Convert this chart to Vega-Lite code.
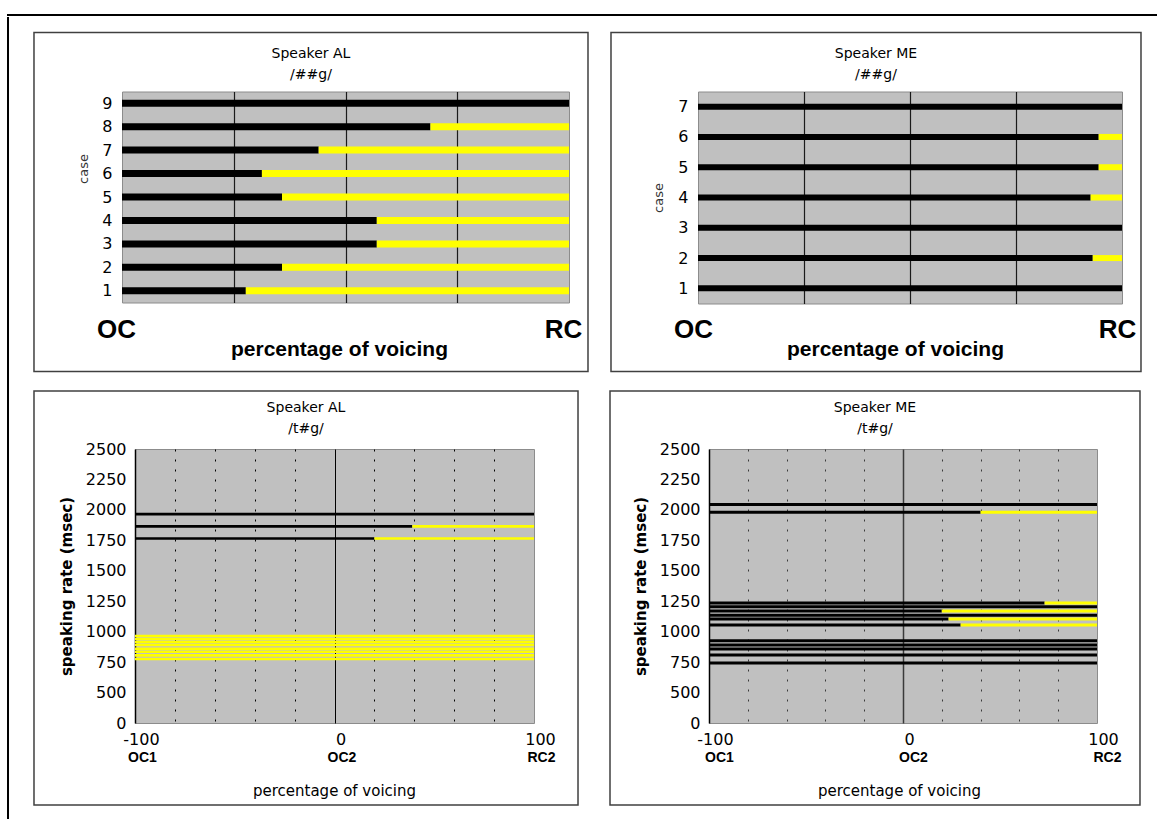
{
  "$schema": "https://vega.github.io/schema/vega-lite/v6.json",
  "padding": {"left": 7, "top": 14, "right": 0, "bottom": 0},
  "background": "white",
  "spacing": 0,
  "datasets": {
    "AL_g": [
      {"case": 1, "boundary": 27.7}, {"case": 2, "boundary": 35.8}, {"case": 3, "boundary": 57},
      {"case": 4, "boundary": 57}, {"case": 5, "boundary": 35.8}, {"case": 6, "boundary": 31.3},
      {"case": 7, "boundary": 44}, {"case": 8, "boundary": 69}, {"case": 9, "boundary": 100}
    ],
    "ME_g": [
      {"case": 1, "boundary": 100}, {"case": 2, "boundary": 93.1}, {"case": 3, "boundary": 100},
      {"case": 4, "boundary": 92.6}, {"case": 5, "boundary": 94.5}, {"case": 6, "boundary": 94.5},
      {"case": 7, "boundary": 100}
    ],
    "AL_t": [
      {"rate": 1965, "boundary": 100}, {"rate": 1865, "boundary": 39}, {"rate": 1765, "boundary": 20},
      {"rate": 965, "boundary": -100}, {"rate": 940, "boundary": -100}, {"rate": 915, "boundary": -100},
      {"rate": 890, "boundary": -100}, {"rate": 860, "boundary": -100}, {"rate": 835, "boundary": -100},
      {"rate": 805, "boundary": -100}, {"rate": 775, "boundary": -100}
    ],
    "ME_t": [
      {"rate": 2045, "boundary": 100}, {"rate": 1980, "boundary": 40}, {"rate": 1235, "boundary": 73},
      {"rate": 1205, "boundary": 100}, {"rate": 1170, "boundary": 20}, {"rate": 1135, "boundary": 100},
      {"rate": 1105, "boundary": 23.5}, {"rate": 1055, "boundary": 29.7}, {"rate": 925, "boundary": 100},
      {"rate": 890, "boundary": 100}, {"rate": 858, "boundary": 100}, {"rate": 808, "boundary": 100},
      {"rate": 743, "boundary": 100}
    ]
  },
  "vconcat": [
    {
      "width": 1148, "height": 0.01,
      "view": {"stroke": "black", "strokeWidth": 2, "fill": null},
      "data": {"values": []},
      "mark": "rule",
      "encoding": {}
    },
    {
      "spacing": 0,
      "hconcat": [
        {
          "width": 0.01, "height": 800,
          "view": {"stroke": "black", "strokeWidth": 2, "fill": null},
          "data": {"values": []},
          "mark": "rule",
          "encoding": {}
        },
        {
          "spacing": 11.5,
          "vconcat": [
            {
              "width": 1, "height": 1,
              "view": {"stroke": null, "fill": null},
              "data": {"values": []},
              "mark": "rule",
              "encoding": {}
            },
            {
              "spacing": 15.5,
              "vconcat": [
                {
                  "spacing": 0,
                  "hconcat": [
                    {
                      "width": 21.49, "height": 1,
                      "view": {"stroke": null, "fill": null},
                      "data": {"values": []},
                      "mark": "rule",
                      "encoding": {}
                    },
                    {
                      "spacing": 19,
                      "hconcat": [
                        {
                          "width": 447, "height": 211,
                          "view": {"fill": "#c0c0c0", "stroke": "#8c8c8c", "strokeWidth": 1},
                          "title": {"text": ["Speaker AL", "/##g/"], "frame": "bounds", "anchor": "middle", "offset": -50, "fontSize": 14, "lineHeight": 21},
                          "resolve": {"axis": {"x": "independent", "y": "independent"}},
                          "layer": [
                            {
                              "data": {"values": [{}]},
                              "mark": {"type": "rect", "filled": false, "color": "#404040", "strokeWidth": 1.5},
                              "encoding": {
                                "x": {"datum": -19.69, "type": "quantitative", "axis": null},
                                "x2": {"datum": 104.25},
                                "y": {"datum": 12.017, "type": "quantitative", "axis": null},
                                "y2": {"datum": -2.443}
                              }
                            },
                            {
                              "data": {"name": "AL_g"},
                              "mark": {"type": "rule", "color": "black", "strokeWidth": 7, "strokeCap": "butt"},
                              "encoding": {
                                "x": {"field": "boundary", "type": "quantitative",
                                  "scale": {"domain": [0, 100], "nice": false, "zero": false},
                                  "axis": {"orient": "bottom", "values": [0, 25, 50, 75, 100], "grid": true,
                                    "gridColor": {"condition": {"test": "datum.value == 0 || datum.value == 100", "value": "transparent"}, "value": "#1a1a1a"},
                                    "gridWidth": 1.2,
                                    "labelExpr": "datum.value == 0 ? 'OC' : datum.value == 100 ? 'RC' : ''",
                                    "labelFont": "Liberation Sans", "labelFontSize": 26, "labelFontWeight": "bold",
                                    "labelPadding": 14, "labelOffset": -6, "labelFlush": false, "labelOverlap": false,
                                    "title": "percentage of voicing", "titleFont": "Liberation Sans", "titleFontSize": 21, "titleFontWeight": "bold",
                                    "titleX": 217, "titleY": 36, "titleBaseline": "top"}},
                                "x2": {"datum": 0},
                                "y": {"field": "case", "type": "quantitative",
                                  "scale": {"domain": [0.5, 9.5], "nice": false, "zero": false},
                                  "axis": {"orient": "left", "values": [1, 2, 3, 4, 5, 6, 7, 8, 9], "format": "d", "labelFontSize": 16, "labelPadding": 10,
                                    "title": "case", "titleFont": "DejaVu Sans", "titleFontSize": 13, "titleFontWeight": "normal", "titleColor": "#333333",
                                    "titleX": -31.5, "titleY": 77}}
                              }
                            },
                            {
                              "data": {"name": "AL_g"},
                              "transform": [{"filter": "datum.boundary < 100"}],
                              "mark": {"type": "rule", "color": "#ffff00", "strokeWidth": 7, "strokeCap": "butt"},
                              "encoding": {
                                "x": {"field": "boundary", "type": "quantitative", "axis": null},
                                "x2": {"datum": 100},
                                "y": {"field": "case", "type": "quantitative", "axis": null}
                              }
                            }
                          ]
                        },
                        {
                          "width": 424, "height": 212,
                          "view": {"fill": "#c0c0c0", "stroke": "#8c8c8c", "strokeWidth": 1},
                          "title": {"text": ["Speaker ME", "/##g/"], "frame": "bounds", "anchor": "middle", "offset": -50, "fontSize": 14, "lineHeight": 21},
                          "resolve": {"axis": {"x": "independent", "y": "independent"}},
                          "layer": [
                            {
                              "data": {"values": [{}]},
                              "mark": {"type": "rect", "filled": false, "color": "#404040", "strokeWidth": 1.5},
                              "encoding": {
                                "x": {"datum": -20.52, "type": "quantitative", "axis": null},
                                "x2": {"datum": 104.48},
                                "y": {"datum": 9.448, "type": "quantitative", "axis": null},
                                "y2": {"datum": -1.745}
                              }
                            },
                            {
                              "data": {"name": "ME_g"},
                              "mark": {"type": "rule", "color": "black", "strokeWidth": 6, "strokeCap": "butt"},
                              "encoding": {
                                "x": {"field": "boundary", "type": "quantitative",
                                  "scale": {"domain": [0, 100], "nice": false, "zero": false},
                                  "axis": {"orient": "bottom", "values": [0, 25, 50, 75, 100], "grid": true,
                                    "gridColor": {"condition": {"test": "datum.value == 0 || datum.value == 100", "value": "transparent"}, "value": "#1a1a1a"},
                                    "gridWidth": 1.2,
                                    "labelExpr": "datum.value == 0 ? 'OC' : datum.value == 100 ? 'RC' : ''",
                                    "labelFont": "Liberation Sans", "labelFontSize": 26, "labelFontWeight": "bold",
                                    "labelPadding": 13, "labelOffset": -5, "labelFlush": false, "labelOverlap": false,
                                    "title": "percentage of voicing", "titleFont": "Liberation Sans", "titleFontSize": 21, "titleFontWeight": "bold",
                                    "titleX": 197, "titleY": 35, "titleBaseline": "top"}},
                                "x2": {"datum": 0},
                                "y": {"field": "case", "type": "quantitative",
                                  "scale": {"domain": [0.5, 7.5], "nice": false, "zero": false},
                                  "axis": {"orient": "left", "values": [1, 2, 3, 4, 5, 6, 7], "format": "d", "labelFontSize": 16, "labelPadding": 10,
                                    "title": "case", "titleFont": "DejaVu Sans", "titleFontSize": 13, "titleFontWeight": "normal", "titleColor": "#333333",
                                    "titlePadding": 12}}
                              }
                            },
                            {
                              "data": {"name": "ME_g"},
                              "transform": [{"filter": "datum.boundary < 100"}],
                              "mark": {"type": "rule", "color": "#ffff00", "strokeWidth": 6, "strokeCap": "butt"},
                              "encoding": {
                                "x": {"field": "boundary", "type": "quantitative", "axis": null},
                                "x2": {"datum": 100},
                                "y": {"field": "case", "type": "quantitative", "axis": null}
                              }
                            }
                          ]
                        }
                      ]
                    }
                  ]
                },
                {
                  "spacing": 0,
                  "hconcat": [
                    {
                      "width": 21.49, "height": 1,
                      "view": {"stroke": null, "fill": null},
                      "data": {"values": []},
                      "mark": "rule",
                      "encoding": {}
                    },
                    {
                      "spacing": 28,
                      "hconcat": [
                        {
                          "width": 399, "height": 274,
                          "view": {"fill": "#c0c0c0", "stroke": "#8c8c8c", "strokeWidth": 1},
                          "title": {"text": ["Speaker AL", "/t#g/"], "frame": "bounds", "anchor": "middle", "offset": -46, "fontSize": 14, "lineHeight": 21},
                          "resolve": {"axis": {"x": "independent", "y": "independent"}},
                          "layer": [
                            {
                              "data": {"values": [{}]},
                              "mark": {"type": "rect", "filled": false, "color": "#404040", "strokeWidth": 1.5},
                              "encoding": {
                                "x": {"datum": -150.63, "type": "quantitative", "axis": null},
                                "x2": {"datum": 122.06},
                                "y": {"datum": 2976.3, "type": "quantitative", "axis": null},
                                "y2": {"datum": -423.3}
                              }
                            },
                            {
                              "data": {"name": "AL_t"},
                              "transform": [{"filter": "datum.boundary > -100"}],
                              "mark": {"type": "rule", "color": "black", "strokeWidth": 2.6, "strokeCap": "butt"},
                              "encoding": {
                                "x": {"field": "boundary", "type": "quantitative",
                                  "scale": {"domain": [-100, 100], "nice": false, "zero": false},
                                  "axis": {"orient": "bottom", "values": [-100, -80, -60, -40, -20, 0, 20, 40, 60, 80, 100], "grid": true,
                                    "gridColor": {"condition": {"test": "abs(datum.value) == 100", "value": "transparent"}, "value": "black"},
                                    "gridDash": {"condition": {"test": "datum.value == 0", "value": []}, "value": [2, 8]},
                                    "gridWidth": 1,
                                    "labelExpr": "datum.value == -100 ? '-100' : datum.value == 0 ? '0' : datum.value == 100 ? '100' : ''",
                                    "labelFontSize": 16, "labelPadding": 8, "labelOffset": 6, "labelFlush": false, "labelOverlap": false,
                                    "title": null}},
                                "x2": {"datum": -100},
                                "y": {"field": "rate", "type": "quantitative",
                                  "scale": {"domain": [250, 2500], "nice": false, "zero": false},
                                  "axis": {"orient": "left", "values": [250, 500, 750, 1000, 1250, 1500, 1750, 2000, 2250, 2500], "format": "d",
                                    "labelExpr": "datum.value == 250 ? '0' : datum.label",
                                    "labelFontSize": 16, "labelPadding": 9,
                                    "domain": true, "domainColor": "black", "domainWidth": 1.5,
                                    "title": "speaking rate (msec)", "titleFont": "DejaVu Sans", "titleFontSize": 15, "titleFontWeight": "bold",
                                    "titlePadding": 11}}
                              }
                            },
                            {
                              "data": {"name": "AL_t"},
                              "transform": [{"filter": "datum.boundary < 100"}],
                              "mark": {"type": "rule", "color": "#ffff00", "strokeWidth": 2.6, "strokeCap": "butt"},
                              "encoding": {
                                "x": {"field": "boundary", "type": "quantitative",
                                  "axis": {"orient": "bottom", "values": [-100, 0, 100], "grid": false,
                                    "labelExpr": "datum.value == -100 ? 'OC1' : datum.value == 0 ? 'OC2' : 'RC2'",
                                    "labelFont": "Liberation Sans", "labelFontSize": 14, "labelFontWeight": "bold",
                                    "labelPadding": 27, "labelOffset": 7, "labelFlush": false, "labelOverlap": false,
                                    "title": "percentage of voicing", "titleFont": "DejaVu Sans", "titleFontSize": 15, "titleFontWeight": "normal",
                                    "titleX": 199, "titleY": 60, "titleBaseline": "top"}},
                                "x2": {"datum": 100},
                                "y": {"field": "rate", "type": "quantitative", "axis": null}
                              }
                            }
                          ]
                        },
                        {
                          "width": 388, "height": 274,
                          "view": {"fill": "#c0c0c0", "stroke": "#8c8c8c", "strokeWidth": 1},
                          "title": {"text": ["Speaker ME", "/t#g/"], "frame": "bounds", "anchor": "middle", "offset": -46, "fontSize": 14, "lineHeight": 21},
                          "resolve": {"axis": {"x": "independent", "y": "independent"}},
                          "layer": [
                            {
                              "data": {"values": [{}]},
                              "mark": {"type": "rect", "filled": false, "color": "#404040", "strokeWidth": 1.5},
                              "encoding": {
                                "x": {"datum": -151.03, "type": "quantitative", "axis": null},
                                "x2": {"datum": 122.16},
                                "y": {"datum": 2976.3, "type": "quantitative", "axis": null},
                                "y2": {"datum": -423.3}
                              }
                            },
                            {
                              "data": {"name": "ME_t"},
                              "transform": [{"filter": "datum.boundary > -100"}],
                              "mark": {"type": "rule", "color": "black", "strokeWidth": 3, "strokeCap": "butt"},
                              "encoding": {
                                "x": {"field": "boundary", "type": "quantitative",
                                  "scale": {"domain": [-100, 100], "nice": false, "zero": false},
                                  "axis": {"orient": "bottom", "values": [-100, -80, -60, -40, -20, 0, 20, 40, 60, 80, 100], "grid": true,
                                    "gridColor": {"condition": {"test": "abs(datum.value) == 100", "value": "transparent"}, "value": "#3a3a3a"},
                                    "gridDash": {"condition": {"test": "datum.value == 0", "value": []}, "value": [2, 8]},
                                    "gridWidth": {"condition": {"test": "datum.value == 0", "value": 1.5}, "value": 1},
                                    "labelExpr": "datum.value == -100 ? '-100' : datum.value == 0 ? '0' : datum.value == 100 ? '100' : ''",
                                    "labelFontSize": 16, "labelPadding": 8, "labelOffset": 6, "labelFlush": false, "labelOverlap": false,
                                    "title": null}},
                                "x2": {"datum": -100},
                                "y": {"field": "rate", "type": "quantitative",
                                  "scale": {"domain": [250, 2500], "nice": false, "zero": false},
                                  "axis": {"orient": "left", "values": [250, 500, 750, 1000, 1250, 1500, 1750, 2000, 2250, 2500], "format": "d",
                                    "labelExpr": "datum.value == 250 ? '0' : datum.label",
                                    "labelFontSize": 16, "labelPadding": 9,
                                    "domain": true, "domainColor": "black", "domainWidth": 1.5,
                                    "title": "speaking rate (msec)", "titleFont": "DejaVu Sans", "titleFontSize": 15, "titleFontWeight": "bold",
                                    "titlePadding": 11}}
                              }
                            },
                            {
                              "data": {"name": "ME_t"},
                              "transform": [{"filter": "datum.boundary < 100"}],
                              "mark": {"type": "rule", "color": "#ffff00", "strokeWidth": 3, "strokeCap": "butt"},
                              "encoding": {
                                "x": {"field": "boundary", "type": "quantitative",
                                  "axis": {"orient": "bottom", "values": [-100, 0, 100], "grid": false,
                                    "labelExpr": "datum.value == -100 ? 'OC1' : datum.value == 0 ? 'OC2' : 'RC2'",
                                    "labelFont": "Liberation Sans", "labelFontSize": 14, "labelFontWeight": "bold",
                                    "labelPadding": 27, "labelOffset": 10, "labelFlush": false, "labelOverlap": false,
                                    "title": "percentage of voicing", "titleFont": "DejaVu Sans", "titleFontSize": 15, "titleFontWeight": "normal",
                                    "titleX": 190, "titleY": 60, "titleBaseline": "top"}},
                                "x2": {"datum": 100},
                                "y": {"field": "rate", "type": "quantitative", "axis": null}
                              }
                            }
                          ]
                        }
                      ]
                    }
                  ]
                }
              ]
            }
          ]
        }
      ]
    }
  ],
  "config": {
    "font": "DejaVu Sans",
    "view": {"stroke": null},
    "axis": {"labelColor": "black", "titleColor": "black", "ticks": false, "domain": false, "grid": false, "labelFont": "DejaVu Sans"},
    "title": {"color": "black", "fontWeight": "normal", "font": "DejaVu Sans"}
  }
}
